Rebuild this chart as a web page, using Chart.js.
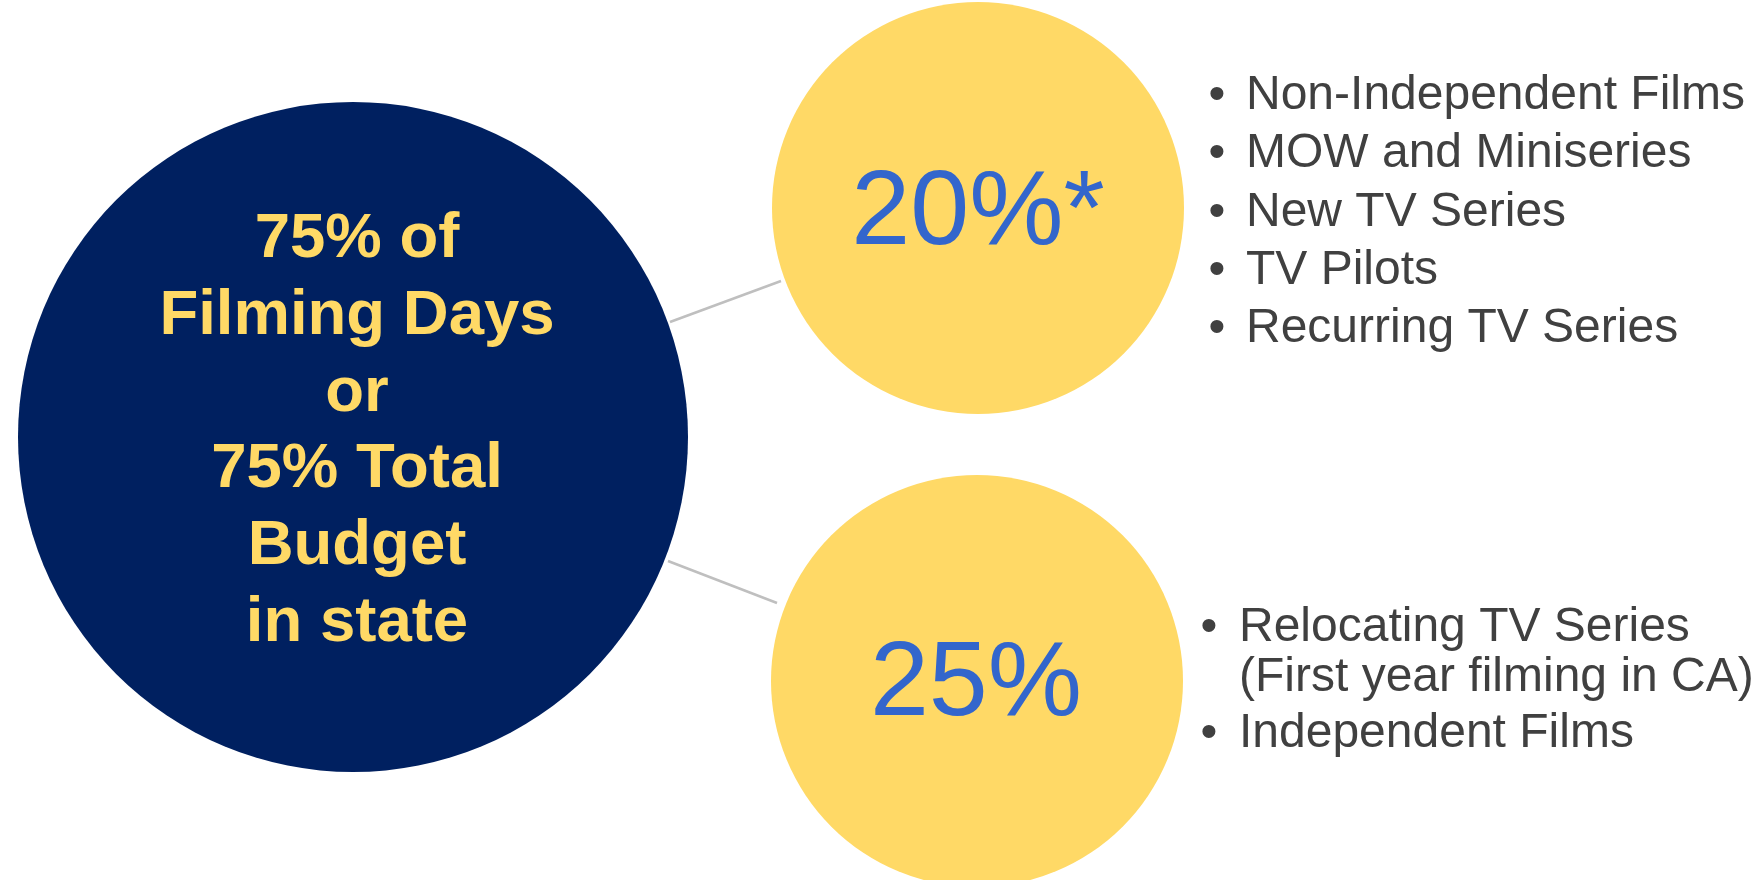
<!DOCTYPE html>
<html>
<head>
<meta charset="utf-8">
<script src="https://cdn.jsdelivr.net/npm/chart.js@4/dist/chart.umd.min.js"></script>
<style>
  html, body { margin: 0; padding: 0; background: #ffffff; }
  #wrap { width: 1757px; height: 880px; }
</style>
</head>
<body>
<div id="wrap"><canvas id="diagram" width="1757" height="880"></canvas></div>
<script>
// Circles of the diagram (page units: x across, y down)
const circleNames = ['requirement', 'rate20', 'rate25'];
const circleX = [353, 978, 977];
const circleY = [437, 208, 681];
const circleR = [335, 206, 206];

// Connector lines (from big circle to each rate circle)
const linkFromX = [670, 668];
const linkFromY = [322, 561];
const linkToX = [781, 777];
const linkToY = [281, 603];

// Texts
const centerLines = ['75% of', 'Filming Days', 'or', '75% Total', 'Budget', 'in state'];
const rateLabels = ['20%*', '25%'];
const topItems = [['Non-Independent Films'], ['MOW and Miniseries'], ['New TV Series'], ['TV Pilots'], ['Recurring TV Series']];
const bottomItems = [['Relocating TV Series', '(First year filming in CA)'], ['Independent Films']];

const NAVY = '#002060';
const YELLOW = '#FFD966';
const BLUE = '#3366CC';
const GREY_TEXT = '#404040';
const FONT = '"Liberation Sans", Arial, Helvetica, sans-serif';

// Helper to draw a bullet list; baseline of first line + line steps
const drawList = (ctx, xs, ys, items, bulletX, textX, firstBaseline, wrapStep, itemStep) => {
    let yv = firstBaseline;
    items.forEach(item => {
        ctx.textAlign = 'center';
        ctx.fillText('\u2022', xs.getPixelForValue(bulletX), ys.getPixelForValue(yv));
        ctx.textAlign = 'left';
        item.forEach((line, i) => {
            if (i > 0) yv += wrapStep;
            ctx.fillText(line, xs.getPixelForValue(textX), ys.getPixelForValue(yv));
        });
        yv += itemStep;
    });
};

const textPlugin = {
    id: 'diagramText',
    afterDatasetsDraw(chart) {
        const { ctx } = chart;
        const xs = chart.scales.x;
        const ys = chart.scales.y;
        ctx.save();
        ctx.textBaseline = 'alphabetic';

        // Requirement text in the big circle
        ctx.fillStyle = YELLOW;
        ctx.font = `bold 63.5px ${FONT}`;
        ctx.textAlign = 'center';
        centerLines.forEach((line, i) => {
            ctx.fillText(line, xs.getPixelForValue(circleX[0] + 4), ys.getPixelForValue(257 + i * 76.8));
        });

        // Rate labels
        ctx.fillStyle = BLUE;
        ctx.font = `106px ${FONT}`;
        ctx.fillText(rateLabels[0], xs.getPixelForValue(circleX[1]), ys.getPixelForValue(244));
        ctx.fillText(rateLabels[1], xs.getPixelForValue(circleX[2] - 1), ys.getPixelForValue(715));

        // Bullet lists
        ctx.fillStyle = GREY_TEXT;
        ctx.font = `48px ${FONT}`;
        drawList(ctx, xs, ys, topItems, 1217, 1246, 109, 58.3, 58.3);
        drawList(ctx, xs, ys, bottomItems, 1209, 1239, 641, 50, 56);

        ctx.restore();
    }
};

const links = linkFromX.map((x0, i) => ({
    type: 'line',
    data: [{ x: x0, y: linkFromY[i] }, { x: linkToX[i], y: linkToY[i] }],
    borderColor: '#BFBFBF',
    borderWidth: 2.5,
    pointRadius: 0,
    clip: false,
    order: 2,
}));

const ctx = document.getElementById('diagram').getContext('2d');
new Chart(ctx, {
    type: 'bubble',
    data: {
        datasets: [
            {
                label: 'circles',
                data: circleNames.map((n, i) => ({ x: circleX[i], y: circleY[i], r: circleR[i] })),
                backgroundColor: [NAVY, YELLOW, YELLOW],
                borderWidth: 0,
                hoverBorderWidth: 0,
                clip: false,
                order: 1,
            },
            ...links,
        ],
    },
    options: {
        responsive: false,
        animation: false,
        devicePixelRatio: 1,
        layout: { padding: 0, autoPadding: false },
        plugins: {
            legend: { display: false },
            tooltip: { enabled: false },
        },
        scales: {
            x: { type: 'linear', min: 0, max: 1757, display: false },
            y: { type: 'linear', min: 0, max: 880, reverse: true, display: false },
        },
    },
    plugins: [textPlugin],
});
</script>
</body>
</html>
